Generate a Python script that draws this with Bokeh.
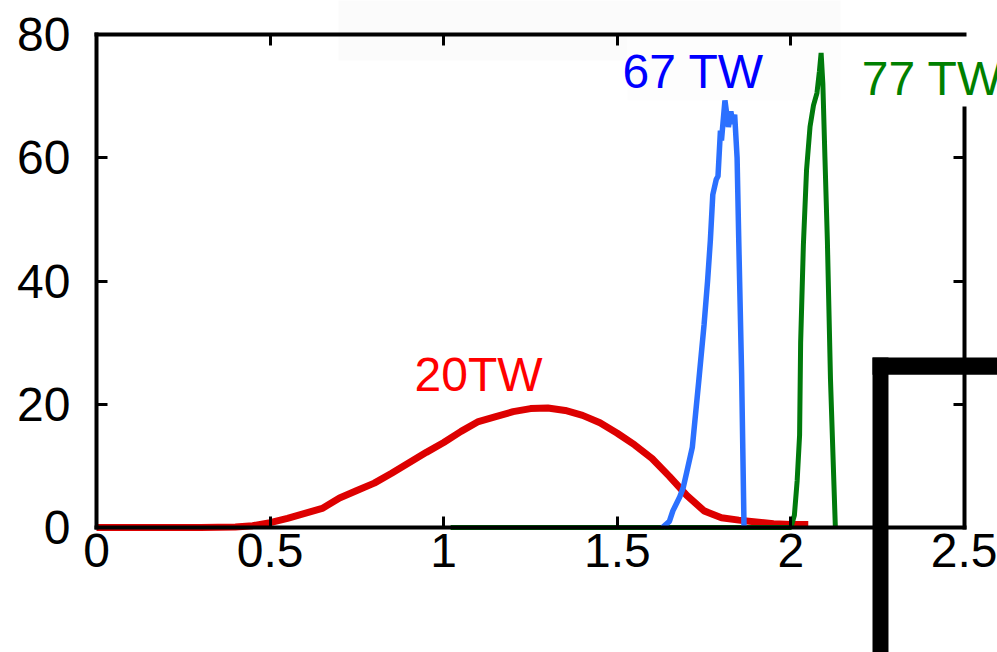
from bokeh.plotting import figure
from bokeh.models import Range1d, LinearAxis, FixedTicker, Label, BoxAnnotation
from bokeh.embed import file_html
from bokeh.resources import INLINE

# ---- data ----
red_x = [0, 0.1, 0.2, 0.3, 0.4, 0.45, 0.5, 0.55, 0.6, 0.65, 0.7, 0.75, 0.8, 0.85, 0.9, 0.95,
         1.0, 1.05, 1.1, 1.15, 1.2, 1.25, 1.3, 1.35, 1.4, 1.45, 1.5, 1.55, 1.6, 1.65, 1.7,
         1.75, 1.8, 1.85, 1.9, 1.95, 2.0, 2.05]
red_y = [0, 0, 0, 0, 0.1, 0.3, 0.8, 1.5, 2.3, 3.1, 4.8, 6.0, 7.2, 8.8, 10.5, 12.2,
         13.8, 15.6, 17.2, 18.0, 18.8, 19.3, 19.4, 19.0, 18.2, 17.0, 15.3, 13.4, 11.2, 8.3, 5.2,
         2.7, 1.6, 1.2, 0.9, 0.6, 0.5, 0.5]

blue_x = [1.63, 1.65, 1.66, 1.68, 1.69, 1.70, 1.716, 1.735, 1.75, 1.76, 1.768, 1.775, 1.785,
          1.79, 1.797, 1.80, 1.81, 1.82, 1.827, 1.833, 1.838, 1.845, 1.85, 1.858, 1.865]
blue_y = [0, 1.0, 2.7, 5.0, 6.5, 9.0, 13.0, 24.0, 33.0, 40.0, 46.6, 54.0, 56.5,
          57.0, 64.4, 62.8, 69.3, 65.0, 67.5, 65.5, 67.0, 60.0, 46.0, 25.0, 0]

green_x = [1.02, 2.0, 2.01, 2.018, 2.025, 2.028, 2.036, 2.045, 2.055, 2.065, 2.075, 2.082,
           2.087, 2.092, 2.098, 2.105, 2.114, 2.128]
green_y = [0, 0, 2.0, 7.6, 15.0, 30.0, 46.0, 58.0, 65.0, 68.5, 70.5, 74.0,
           77.0, 72.0, 60.0, 46.6, 24.0, 0]

x_ticks = [0, 0.5, 1, 1.5, 2, 2.5]
y_ticks = [0, 20, 40, 60, 80]
series_labels = ["20TW", "67 TW", "77 TW"]

FONT = "Liberation Sans"
W, H = 997, 652

p = figure(width=W, height=H, output_backend="svg", toolbar_location=None,
           x_range=Range1d(-0.2765, 2.595), y_range=Range1d(-20.28, 85.52),
           x_axis_location=None, y_axis_location=None,
           min_border=0, min_border_left=0, min_border_right=0,
           min_border_top=0, min_border_bottom=0)
p.outline_line_color = None
p.xgrid.visible = False
p.ygrid.visible = False
p.background_fill_color = "white"
p.border_fill_color = "white"

# very faint grey band across the top
p.add_layout(BoxAnnotation(left=0.697, right=2.143, bottom=75.8, top=90,
                           fill_color="#fbfbfb", fill_alpha=1, line_alpha=0,
                           level="underlay"))
p.add_layout(BoxAnnotation(left=1.529, right=2.143, bottom=69.3, top=79.5,
                           fill_color="#fdfdfd", fill_alpha=1, line_alpha=0,
                           level="underlay"))

p.line(red_x, red_y, line_color="#dd0000", line_width=7)
p.line(green_x, green_y, line_color="#007a0c", line_width=5)
p.line(blue_x, blue_y, line_color="#2b70ff", line_width=5.5)

def make_axis(loc, ticks, bounds, show_labels):
    ax = LinearAxis(ticker=FixedTicker(ticks=ticks), fixed_location=loc, bounds=bounds)
    ax.axis_line_width = 4
    ax.axis_line_color = "black"
    ax.axis_line_cap = "square"
    ax.major_tick_line_width = 3
    ax.major_tick_line_color = "black"
    ax.major_tick_in = 11
    ax.major_tick_out = 0
    ax.minor_tick_in = 0
    ax.minor_tick_out = 0
    ax.minor_tick_line_color = None
    if show_labels:
        ax.major_label_text_font = FONT
        ax.major_label_text_font_size = "48px"
        ax.major_label_text_color = "black"
    else:
        ax.major_label_text_font_size = "0px"
        ax.major_label_text_alpha = 0
    return ax

xb = make_axis(0, x_ticks, (0, 2.5), True)
xb.major_label_standoff = 6
p.add_layout(xb, "below")

yl = make_axis(0, y_ticks, (0, 80), True)
yl.major_label_standoff = 26
p.add_layout(yl, "left")

xa = make_axis(80, [0.5, 1, 1.5, 2], (0, 2.5), False)
p.add_layout(xa, "above")

yr = make_axis(2.5, [20, 40, 60], (0, 68), False)
p.add_layout(yr, "right")

p.add_layout(Label(x=0.916, y=24.9, text=series_labels[0], text_color="#ff0000",
                   text_font=FONT, text_font_size="48px", text_baseline="alphabetic"))
p.add_layout(Label(x=1.515, y=74.0, text=series_labels[1], text_color="#0000ff",
                   text_font=FONT, text_font_size="48px", text_baseline="alphabetic"))
p.add_layout(Label(x=2.204, y=72.9, text=series_labels[2], text_color="#008000",
                   text_font=FONT, text_font_size="48px", text_baseline="alphabetic"))

# thick black L-shaped stroke at lower right
p.add_layout(BoxAnnotation(left=2.235, right=2.281, bottom=-25, top=27.6,
                           fill_color="black", fill_alpha=1, line_alpha=0))
p.add_layout(BoxAnnotation(left=2.235, right=2.7, bottom=24.8, top=27.6,
                           fill_color="black", fill_alpha=1, line_alpha=0))

open("out.html", "w").write(file_html(p, INLINE))
